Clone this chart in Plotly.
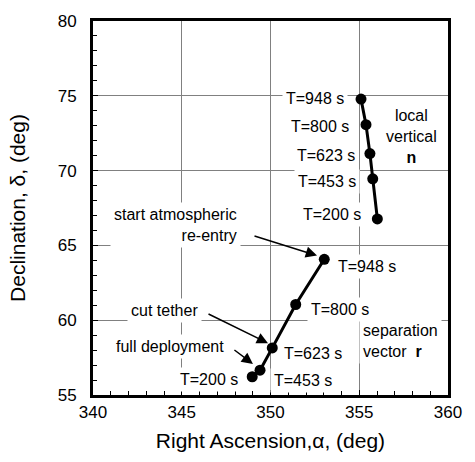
import plotly.graph_objects as go

# ---- data ----
ra_vertical = [355.10, 355.38, 355.60, 355.76, 356.02]
dec_vertical = [74.78, 73.07, 71.14, 69.45, 66.77]
ra_separation = [353.03, 351.42, 350.10, 349.41, 348.97]
dec_separation = [64.07, 61.05, 58.15, 56.66, 56.22]
time_labels = ["T=948 s", "T=800 s", "T=623 s", "T=453 s", "T=200 s"]
x_ticks = [340, 345, 350, 355, 360]
y_ticks = [55, 60, 65, 70, 75, 80]

FONT = "Arial, 'Liberation Sans', Helvetica, sans-serif"

fig = go.Figure()
fig.add_trace(go.Scatter(x=ra_vertical, y=dec_vertical, mode="lines+markers",
                         line=dict(color="black", width=3),
                         marker=dict(color="black", size=11), showlegend=False))
fig.add_trace(go.Scatter(x=ra_separation, y=dec_separation, mode="lines+markers",
                         line=dict(color="black", width=3),
                         marker=dict(color="black", size=11), showlegend=False))

ann = []
lab_font = dict(family=FONT, size=16, color="black")

# labels for local vertical (left of points)
up_shift = [(-13, 1), (-13, -2), (-11, -2), (-13, -3), (-12, 4)]
for x, y, t, (dx, dy) in zip(ra_vertical, dec_vertical, time_labels, up_shift):
    ann.append(dict(x=x, y=y, text=t, showarrow=False, xanchor="right", yanchor="middle",
                    xshift=dx, yshift=dy, font=lab_font, bgcolor="white", borderpad=3))

# labels for separation vector
low_shift = [(10, -7), (11, -5), (8, -6), (10, -10), (-10, -3)]
low_anchor = ["left", "left", "left", "left", "right"]
for x, y, t, (dx, dy), xa in zip(ra_separation, dec_separation, time_labels, low_shift, low_anchor):
    ann.append(dict(x=x, y=y, text=t, showarrow=False, xanchor=xa, yanchor="middle",
                    xshift=dx, yshift=dy, font=lab_font, bgcolor="white", borderpad=3))

ann.append(dict(x=357.97, y=72.28, text="local<br>vertical<br><b>n</b>", showarrow=False,
                xanchor="center", yanchor="middle", align="center", font=lab_font,
                bgcolor="white", borderpad=3))
ann.append(dict(x=354.99, y=58.62, text="separation<br>vector  <b>r</b>", showarrow=False,
                xanchor="left", yanchor="middle", align="left", font=lab_font,
                bgcolor="white", borderpad=3))

# event labels
ann.append(dict(x=348.34, y=66.36, text="start atmospheric<br>re-entry", showarrow=False,
                xanchor="right", yanchor="middle", align="right", font=lab_font,
                bgcolor="white", borderpad=3))
ann.append(dict(x=346.14, y=60.62, text="cut tether", showarrow=False,
                xanchor="right", yanchor="middle", font=lab_font, bgcolor="white", borderpad=3))
ann.append(dict(x=347.61, y=58.26, text="full deployment", showarrow=False,
                xanchor="right", yanchor="middle", font=lab_font, bgcolor="white", borderpad=3))

# arrows
arrow_style = dict(showarrow=True, arrowhead=2, arrowsize=1.5, arrowwidth=1.5,
                   arrowcolor="black", text="", standoff=0, startstandoff=0)
ann.append(dict(x=352.62, y=64.32, ax=-64, ay=-20, **arrow_style))
ann.append(dict(x=349.86, y=58.46, ax=-61, ay=-30, **arrow_style))
ann.append(dict(x=349.01, y=57.08, ax=-20, ay=-15, **arrow_style))

axis_common = dict(showline=True, linewidth=3, linecolor="black", mirror=True,
                   showgrid=True, gridcolor="#808080", gridwidth=1, zeroline=False,
                   ticks="inside", ticklen=5, tickwidth=1, tickcolor="black",
                   tickfont=dict(family=FONT, size=17, color="black"))

fig.update_layout(
    width=475, height=462,
    margin=dict(l=93, r=27, t=15, b=67),
    paper_bgcolor="white", plot_bgcolor="white",
    font=dict(family=FONT, color="black"),
    annotations=ann,
    xaxis=dict(range=[340, 360], tickvals=x_ticks, ticktext=[str(v) for v in x_ticks],
               minor=dict(dtick=1, ticks="inside", ticklen=4, tickcolor="black", showgrid=False),
               title=dict(text="Right Ascension,\u03b1, (deg)", font=dict(family=FONT, size=21),
                          standoff=12),
               **axis_common),
    yaxis=dict(range=[55, 80], tickvals=y_ticks, ticktext=[str(v) for v in y_ticks],
               minor=dict(dtick=1, ticks="inside", ticklen=4, tickcolor="black", showgrid=False),
               title=dict(text="Declination, \u03b4, (deg)", font=dict(family=FONT, size=21),
                          standoff=27),
               ticklabelstandoff=10,
               **axis_common),
)

fig.write_html("out.html")
